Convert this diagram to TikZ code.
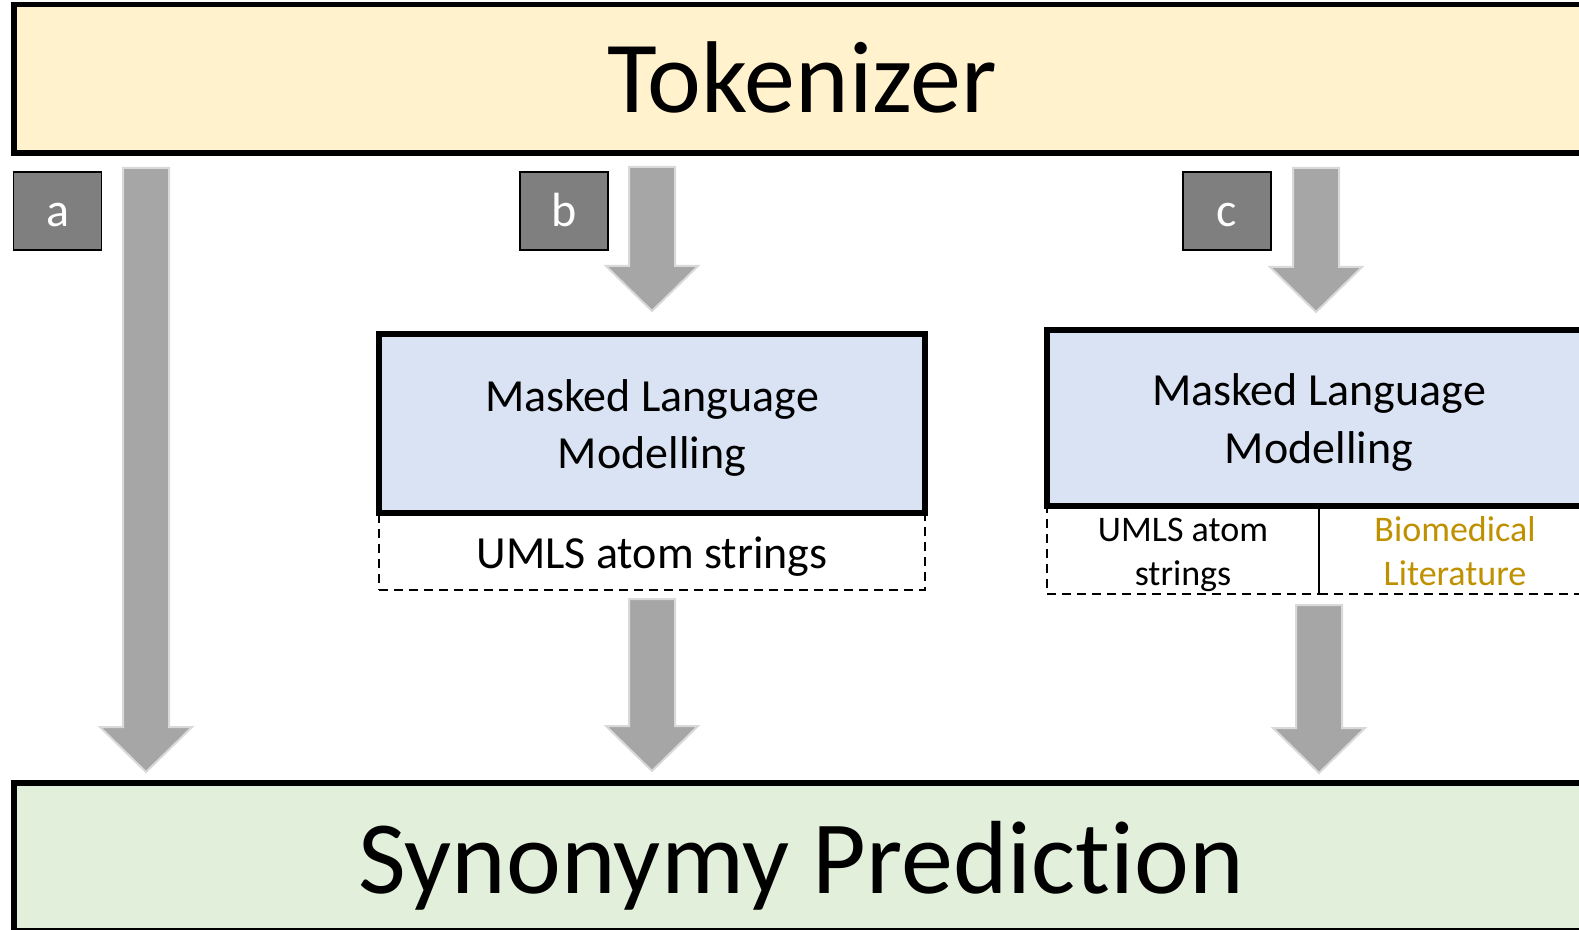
\documentclass[tikz,border=0pt]{standalone}
\usepackage{fontspec}
\setmainfont{Carlito}[Ligatures=NoCommon]
\usetikzlibrary{positioning,calc}

\definecolor{tokfill}{HTML}{FFF2CC}
\definecolor{mlmfill}{HTML}{DAE3F3}
\definecolor{synfill}{HTML}{E2EFDA}
\definecolor{litcol}{HTML}{BF9000}
\definecolor{tagfill}{HTML}{7F7F7F}
\definecolor{arrfill}{HTML}{A6A6A6}
\definecolor{arrline}{HTML}{D9D9D9}

\newcommand\mlmfont{\fontsize{23}{28.5}\selectfont}
\newcommand\datafont{\fontsize{18}{22}\selectfont}

\tikzset{
  bigbox/.style={draw, line width=2.75pt, outer sep=0pt, inner sep=0pt, align=center},
  mlmbox/.style={bigbox, fill=mlmfill, font=\mlmfont, text height=45pt, text depth=0pt},
  databox/.style={draw, dash pattern=on 4.5pt off 3pt, line width=1.1pt, outer sep=0pt, inner sep=0pt, align=center},
  tag/.style={draw, line width=0.6pt, fill=tagfill, text=white, minimum width=44pt, minimum height=39pt, text height=15.5pt, text depth=0pt, font=\fontsize{24}{28}\selectfont},
  bigarrow/.style={fill=arrfill, draw=arrline, line width=1pt}
}

\newcommand\blockarrow[2]{%
  \path[bigarrow] let \p1=(#1), \p2=(#2) in
    (\x1-11.5pt,\y1) -- (\x1+11.5pt,\y1) -- (\x1+11.5pt,\y2+22.5pt)
    -- (\x1+23pt,\y2+22.5pt) -- (\x1,\y2) -- (\x1-23pt,\y2+22.5pt)
    -- (\x1-11.5pt,\y2+22.5pt) -- cycle;}

\begin{document}
\begin{tikzpicture}[x=0.5pt,y=-0.5pt]
\useasboundingbox (0,0) rectangle (1579,930);
\clip (0,0) rectangle (1579,930);

\node[bigbox, fill=tokfill, minimum width=788pt, minimum height=74.25pt, text height=34pt, text depth=0pt, font=\fontsize{51}{61}\selectfont] (tok) at (802,78.75) {Tokenizer};
\node[bigbox, fill=synfill, minimum width=787pt, minimum height=74pt, text height=36pt, text depth=0pt, font=\fontsize{52}{62}\selectfont] (syn) at (801,857) {Synonymy Prediction};

\foreach \l/\x in {a/57.5,b/564,c/1227}
  \node[tag] (tag\l) at (\x,211) {\l};

\node[mlmbox, minimum width=273pt, minimum height=89.5pt] (mlmB) at (652,423.5) {Masked Language\\Modelling};
\node[databox, minimum width=273pt, minimum height=38.5pt, below=0pt of mlmB, font=\mlmfont, text height=16.5pt, text depth=0pt] (umlsB) {UMLS atom strings};

\node[mlmbox, minimum width=272pt, minimum height=88pt] (mlmC) at (1319,418) {Masked Language\\Modelling};
\node[databox, minimum width=136pt, minimum height=44pt, anchor=north west, font=\datafont, text height=35pt, text depth=0pt] (umlsC) at (mlmC.south west) {UMLS atom\\strings};
\node[databox, minimum width=136pt, minimum height=44pt, right=0pt of umlsC, text=litcol, font=\datafont, text height=35pt, text depth=0pt] (litC) {Biomedical\\Literature};

\coordinate (aTop) at (146,168);
\coordinate (aEnd) at (146,772);
\coordinate (bTop) at (652,167);
\coordinate (bEnd) at (652,311);
\coordinate (bOut) at (652,599);
\coordinate (bSyn) at (652,771);
\coordinate (cTop) at (1316,168);
\coordinate (cEnd) at (1316,312);
\coordinate (cOut) at (1319,605);
\coordinate (cSyn) at (1319,773);

\blockarrow{aTop}{aEnd}
\blockarrow{bTop}{bEnd}
\blockarrow{bOut}{bSyn}
\blockarrow{cTop}{cEnd}
\blockarrow{cOut}{cSyn}

\end{tikzpicture}
\end{document}
